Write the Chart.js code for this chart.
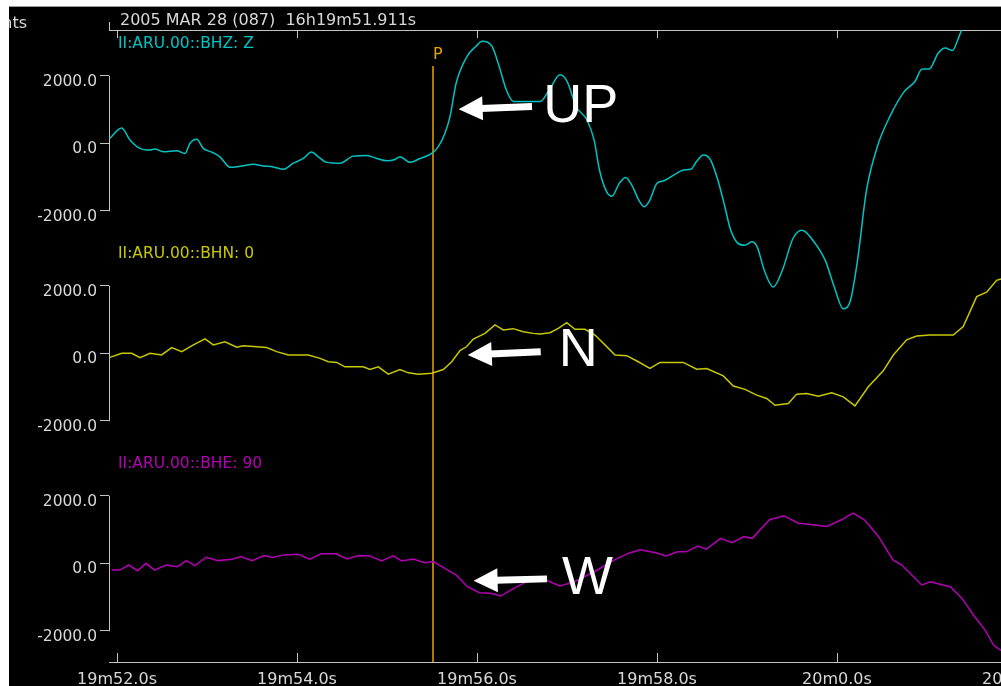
<!DOCTYPE html>
<html>
<head>
<meta charset="utf-8">
<script src="https://cdn.jsdelivr.net/npm/chart.js@4.4.1/dist/chart.umd.min.js"></script>
<style>
  html, body { margin: 0; padding: 0; background: #fff; overflow: hidden; width: 1001px; height: 686px; }
  #topline { position: absolute; left: 9px; top: 6px; right: 0; height: 1px; background: #9a9a9a; }
  #seis { position: absolute; left: 9px; top: 7px; background: #000; }
</style>
</head>
<body>
<div id="topline"></div>
<canvas id="seis" width="1060" height="679"></canvas>
<script>
// seconds after 16h19m00s, and counts
const zTimes = [51.922, 52.052, 52.144, 52.256, 52.367, 52.422, 52.514, 52.663, 52.756, 52.811, 52.886, 52.959, 53.070, 53.144, 53.256, 53.386, 53.514, 53.626, 53.737, 53.848, 53.959, 54.070, 54.163, 54.237, 54.330, 54.478, 54.626, 54.774, 54.886, 54.997, 55.089, 55.144, 55.256, 55.367, 55.497, 55.570, 55.644, 55.700, 55.768, 55.888, 55.987, 56.059, 56.167, 56.246, 56.326, 56.406, 56.544, 56.704, 56.803, 56.923, 57.002, 57.102, 57.222, 57.301, 57.361, 57.441, 57.500, 57.580, 57.652, 57.720, 57.799, 57.859, 57.919, 57.998, 58.078, 58.218, 58.297, 58.377, 58.437, 58.516, 58.596, 58.676, 58.754, 58.814, 58.894, 58.974, 59.053, 59.113, 59.193, 59.292, 59.392, 59.511, 59.611, 59.731, 59.870, 59.970, 60.069, 60.149, 60.228, 60.328, 60.448, 60.587, 60.747, 60.866, 60.946, 61.024, 61.124, 61.204, 61.283, 61.343, 61.383, 61.480, 61.822];
const zCounts = [150, 450, 100, -150, -200, -170, -250, -220, -300, 0, 120, -150, -280, -400, -710, -670, -620, -670, -700, -770, -590, -450, -260, -400, -565, -590, -380, -360, -450, -520, -480, -400, -565, -450, -300, -100, 300, 790, 1780, 2570, 2870, 3020, 2870, 2280, 1580, 1240, 1240, 1240, 1580, 2030, 1830, 1090, 690, 100, -790, -1440, -1570, -1190, -1010, -1240, -1690, -1880, -1690, -1190, -1110, -890, -790, -770, -550, -350, -500, -1090, -1880, -2530, -2950, -3020, -2920, -3070, -3770, -4260, -3770, -2820, -2580, -2870, -3470, -4260, -4900, -4660, -3470, -1390, -100, 790, 1530, 1830, 2200, 2200, 2670, 2820, 2750, 3070, 3350, 3960, 4850];

const nTimes = [51.922, 52.052, 52.163, 52.256, 52.367, 52.496, 52.608, 52.719, 52.848, 52.978, 53.070, 53.200, 53.330, 53.403, 53.663, 53.774, 53.903, 54.126, 54.256, 54.348, 54.441, 54.533, 54.737, 54.811, 54.903, 55.014, 55.144, 55.237, 55.348, 55.497, 55.626, 55.719, 55.811, 55.886, 55.959, 56.089, 56.200, 56.292, 56.403, 56.514, 56.626, 56.700, 56.811, 56.903, 56.997, 57.089, 57.200, 57.311, 57.422, 57.533, 57.663, 57.792, 57.922, 58.033, 58.292, 58.441, 58.552, 58.737, 58.848, 58.978, 59.108, 59.219, 59.311, 59.459, 59.552, 59.663, 59.792, 59.941, 60.070, 60.200, 60.348, 60.514, 60.626, 60.774, 60.886, 61.033, 61.292, 61.403, 61.552, 61.663, 61.774, 61.822];
const nCounts = [-120, 0, 0, -130, 0, -50, 170, 50, 250, 430, 250, 340, 180, 220, 170, 50, -50, -50, -150, -250, -270, -400, -400, -480, -400, -620, -480, -580, -620, -590, -480, -250, 80, 200, 420, 590, 840, 690, 730, 640, 590, 570, 610, 740, 910, 710, 710, 540, 250, -50, -70, -250, -450, -270, -270, -470, -450, -670, -970, -1070, -1240, -1340, -1540, -1490, -1210, -1190, -1270, -1170, -1290, -1560, -990, -520, -50, 400, 510, 540, 540, 790, 1680, 1810, 2160, 2200];

const eTimes = [51.939, 52.033, 52.130, 52.227, 52.322, 52.418, 52.546, 52.673, 52.769, 52.864, 52.992, 53.120, 53.280, 53.376, 53.503, 53.631, 53.727, 53.854, 54.014, 54.142, 54.270, 54.429, 54.557, 54.684, 54.812, 54.940, 55.068, 55.163, 55.291, 55.419, 55.514, 55.642, 55.770, 55.898, 56.026, 56.153, 56.262, 56.409, 56.569, 56.728, 56.920, 57.079, 57.303, 57.527, 57.686, 57.813, 57.973, 58.101, 58.229, 58.324, 58.452, 58.548, 58.708, 58.836, 58.963, 59.059, 59.250, 59.410, 59.570, 59.729, 59.889, 60.049, 60.177, 60.304, 60.463, 60.623, 60.719, 60.942, 61.039, 61.262, 61.390, 61.518, 61.646, 61.741, 61.822];
const eCounts = [-200, -200, -50, -220, 0, -200, -50, -100, 80, -70, 180, 80, 120, 200, 80, 230, 170, 250, 270, 120, 280, 280, 130, 230, 220, 70, 220, 70, 130, 20, 50, -150, -350, -700, -870, -890, -970, -740, -520, -450, -670, -550, -250, 100, 300, 400, 320, 220, 340, 340, 510, 420, 740, 610, 790, 740, 1290, 1410, 1190, 1140, 1090, 1290, 1490, 1290, 790, 100, -50, -640, -550, -700, -1040, -1540, -1980, -2430, -2580];

const channelNames = ['II:ARU.00::BHZ: Z', 'II:ARU.00::BHN: 0', 'II:ARU.00::BHE: 90'];
const ampTicks = [-2000, 0, 2000];
const pickTime = 55.506;
const titleText = '2005 MAR 28 (087)  16h19m51.911s';

// arrows: [time, counts] on each channel's axis
const notes = [
  { axis: 'yZ', label: 'UP', tip: [55.796, 1010], tail: [56.611, 1090], text: [56.736, 640] },
  { axis: 'yN', label: 'N', tip: [55.897, -50], tail: [56.708, 48], text: [56.907, -377] },
  { axis: 'yE', label: 'W', tip: [55.962, -517], tail: [56.778, -461], text: [56.944, -912] }
];

const colZ = '#00c4c4', colN = '#c8c800', colE = '#b400b4';
const axisColor = '#c4c4c4', textColor = '#d8d8d8', pickColor = '#e8a400';
const mono = 'DejaVu Sans';

function fmtTime(s) {
  const m = 19 + Math.floor(s / 60);
  return m + 'm' + (s - (m - 19) * 60).toFixed(1) + 's';
}

function ampAxis(lo, hi) {
  return {
    type: 'linear', position: 'left', stack: 'traces', stackWeight: 1,
    min: lo, max: hi,
    afterBuildTicks: s => { s.ticks = ampTicks.map(v => ({ value: v })); },
    afterFit: s => { s.width = 100; },
    grid: { drawOnChartArea: false, drawTicks: true, tickLength: 9, color: axisColor },
    border: { display: false },
    ticks: { color: textColor, font: { family: mono, size: 15.5 }, padding: 3, labelOffset: 6,
      callback: v => Number(v).toFixed(1) }
  };
}

const seisDecor = {
  id: 'seisDecor',
  beforeDatasetsDraw(chart) {
    const ctx = chart.ctx, x = chart.scales.x, a = chart.chartArea;
    ctx.save();
    ctx.strokeStyle = axisColor;
    ctx.lineWidth = 1;
    ctx.beginPath();
    ctx.moveTo(a.left, a.top + 0.5); ctx.lineTo(a.right, a.top + 0.5);
    ctx.moveTo(a.left + 0.5, a.top - 8); ctx.lineTo(a.left + 0.5, a.top);
    ctx.moveTo(a.left, a.bottom + 0.5); ctx.lineTo(a.right, a.bottom + 0.5);
    x.ticks.forEach(t => {
      const px = Math.round(x.getPixelForValue(t.value)) + 0.5;
      ctx.moveTo(px, a.top); ctx.lineTo(px, a.top + 8);
      ctx.moveTo(px, a.bottom); ctx.lineTo(px, a.bottom - 9);
    });
    ['yZ', 'yN', 'yE'].forEach(id => {
      const s = chart.scales[id];
      ctx.moveTo(s.right + 0.5, s.getPixelForValue(ampTicks[2]));
      ctx.lineTo(s.right + 0.5, s.getPixelForValue(ampTicks[0]) + 0.5);
    });
    ctx.stroke();

    ctx.fillStyle = textColor;
    ctx.font = '16px "' + mono + '"';
    ctx.textBaseline = 'alphabetic';
    ctx.textAlign = 'left';
    ctx.fillText(titleText, 111, 18);
    ctx.textAlign = 'right';
    ctx.fillText('Counts', 18, 21);

    // channel names
    ctx.textAlign = 'left';
    ctx.font = '15.5px "' + mono + '"';
    [['yZ', colZ], ['yN', colN], ['yE', colE]].forEach(([id, c], i) => {
      ctx.fillStyle = c;
      ctx.fillText(channelNames[i], a.left + 9, chart.scales[id].getPixelForValue(2830));
    });

    // P pick
    const px = Math.round(x.getPixelForValue(pickTime));
    ctx.strokeStyle = pickColor;
    ctx.lineWidth = 1.5;
    ctx.beginPath();
    ctx.moveTo(px, 59); ctx.lineTo(px, a.bottom);
    ctx.stroke();
    ctx.fillStyle = pickColor;
    ctx.font = '16px "' + mono + '"';
    ctx.fillText('P', px, 52);
    ctx.restore();
  },
  afterDatasetsDraw(chart) {
    const ctx = chart.ctx, x = chart.scales.x;
    ctx.save();
    ctx.fillStyle = '#fff';
    ctx.strokeStyle = '#fff';
    notes.forEach(n => {
      const s = chart.scales[n.axis];
      const p0 = { x: x.getPixelForValue(n.tail[0]), y: s.getPixelForValue(n.tail[1]) };
      const p1 = { x: x.getPixelForValue(n.tip[0]), y: s.getPixelForValue(n.tip[1]) };
      const dx = p1.x - p0.x, dy = p1.y - p0.y, len = Math.hypot(dx, dy);
      const ux = dx / len, uy = dy / len;
      const hl = 24, hw = 12;
      const bx = p1.x - ux * hl, by = p1.y - uy * hl;
      ctx.lineWidth = 7;
      ctx.beginPath();
      ctx.moveTo(p0.x, p0.y); ctx.lineTo(bx + ux * 2, by + uy * 2);
      ctx.stroke();
      ctx.beginPath();
      ctx.moveTo(p1.x, p1.y);
      ctx.lineTo(bx - uy * hw, by + ux * hw);
      ctx.lineTo(bx + uy * hw, by - ux * hw);
      ctx.closePath();
      ctx.fill();
      ctx.font = '54px "Liberation Sans"';
      ctx.textAlign = 'left';
      ctx.textBaseline = 'alphabetic';
      ctx.fillText(n.label, x.getPixelForValue(n.text[0]), s.getPixelForValue(n.text[1]));
    });
    ctx.restore();
  }
};

const pts = (ts, vs) => ts.map((t, i) => ({ x: t, y: vs[i] }));

new Chart(document.getElementById('seis').getContext('2d'), {
  type: 'line',
  data: {
    datasets: [
      { data: pts(zTimes, zCounts), yAxisID: 'yZ', borderColor: colZ, borderWidth: 1.5, pointRadius: 0,
        cubicInterpolationMode: 'monotone', clip: { left: 0, top: 0, right: 0, bottom: false } },
      { data: pts(nTimes, nCounts), yAxisID: 'yN', borderColor: colN, borderWidth: 1.5, pointRadius: 0, tension: 0 },
      { data: pts(eTimes, eCounts), yAxisID: 'yE', borderColor: colE, borderWidth: 1.5, pointRadius: 0, tension: 0 }
    ]
  },
  options: {
    responsive: false,
    animation: false,
    layout: { padding: { top: 23, left: 0, right: 0, bottom: 0 } },
    plugins: { legend: { display: false }, tooltip: { enabled: false } },
    scales: {
      x: {
        type: 'linear', position: 'bottom', min: 51.911, max: 62.578,
        grid: { display: false, drawTicks: false }, border: { display: false },
        afterFit: s => { s.height = 24; },
        ticks: { stepSize: 2, includeBounds: false, autoSkip: false, maxRotation: 0, color: textColor,
          font: { family: mono, size: 16 }, padding: 8, callback: v => fmtTime(v) }
      },
      // stacked axes are laid out bottom-up, so the E channel comes first
      yE: ampAxis(-2924, 3318),
      yN: ampAxis(-2905, 3337),
      yZ: ampAxis(-2885, 3357)
    }
  },
  plugins: [seisDecor]
});
</script>
</body>
</html>
